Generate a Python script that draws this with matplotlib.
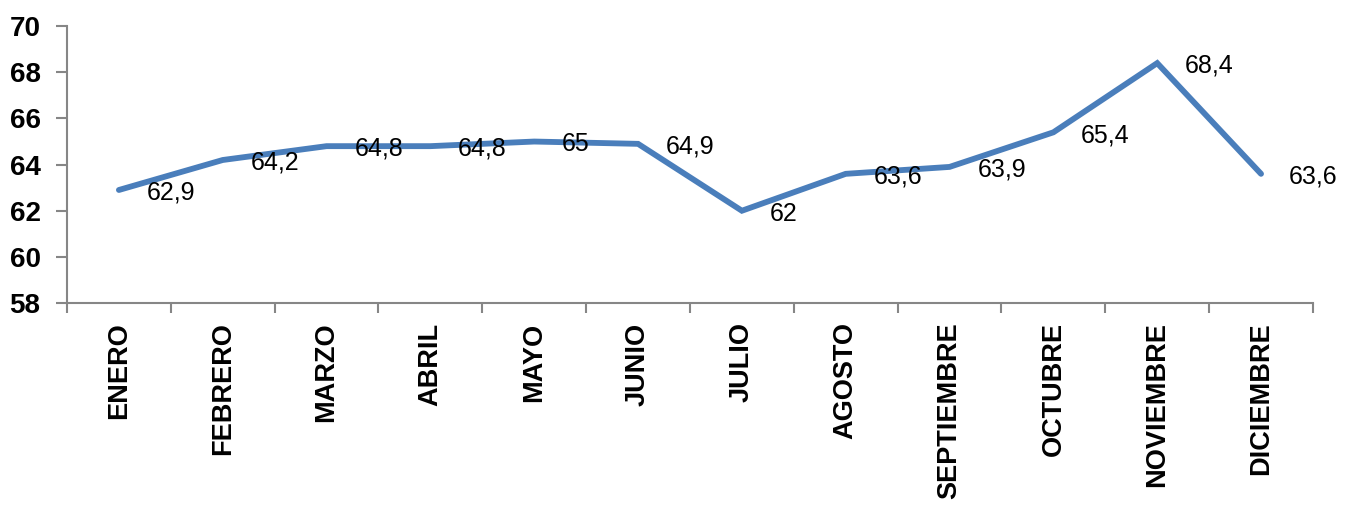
import matplotlib.pyplot as plt
import numpy as np

months = ["ENERO", "FEBRERO", "MARZO", "ABRIL", "MAYO", "JUNIO", "JULIO",
          "AGOSTO", "SEPTIEMBRE", "OCTUBRE", "NOVIEMBRE", "DICIEMBRE"]
values = [62.9, 64.2, 64.8, 64.8, 65.0, 64.9, 62.0, 63.6, 63.9, 65.4, 68.4, 63.6]
y_ticks = [58, 60, 62, 64, 66, 68, 70]

FONT = ["Liberation Sans", "DejaVu Sans"]
LINE = "#4A7EBB"
AXIS = "#868686"

fig = plt.figure(figsize=(13.48, 5.14), dpi=100)
ax = fig.add_axes([0.0497, 0.4105, 0.9243, 0.5385])

x = np.arange(len(months))
ax.plot(x, values, color=LINE, lw=4.2, solid_capstyle="round",
        solid_joinstyle="miter")

for xi, v in zip(x, values):
    label = f"{v:g}".replace(".", ",")
    ax.annotate(label, (xi, v), xytext=(20, -2), textcoords="offset points",
                ha="left", va="center", fontsize=18, family=FONT,
                color="black")

ax.set_xlim(-0.5, len(months) - 0.5)
ax.set_ylim(58, 70)
ax.set_yticks(y_ticks)
ax.set_yticklabels([str(t) for t in y_ticks], family=FONT,
                   fontweight="bold", fontsize=20)

ax.set_xticks(x)
ax.set_xticklabels(months, rotation=90, family=FONT, fontweight="bold",
                   fontsize=19.5, va="top", ha="center")
ax.set_xticks(np.arange(len(months) + 1) - 0.5, minor=True)
ax.tick_params(axis="x", which="major", length=0, pad=14)
ax.tick_params(axis="x", which="minor", length=7, width=1.5, color=AXIS,
               direction="out")
ax.tick_params(axis="y", length=8, width=1.5, color=AXIS, direction="out",
               pad=11)

for side in ("top", "right"):
    ax.spines[side].set_visible(False)
for side in ("left", "bottom"):
    ax.spines[side].set_color(AXIS)
    ax.spines[side].set_linewidth(1.5)

fig.savefig("out.png", dpi=100)
